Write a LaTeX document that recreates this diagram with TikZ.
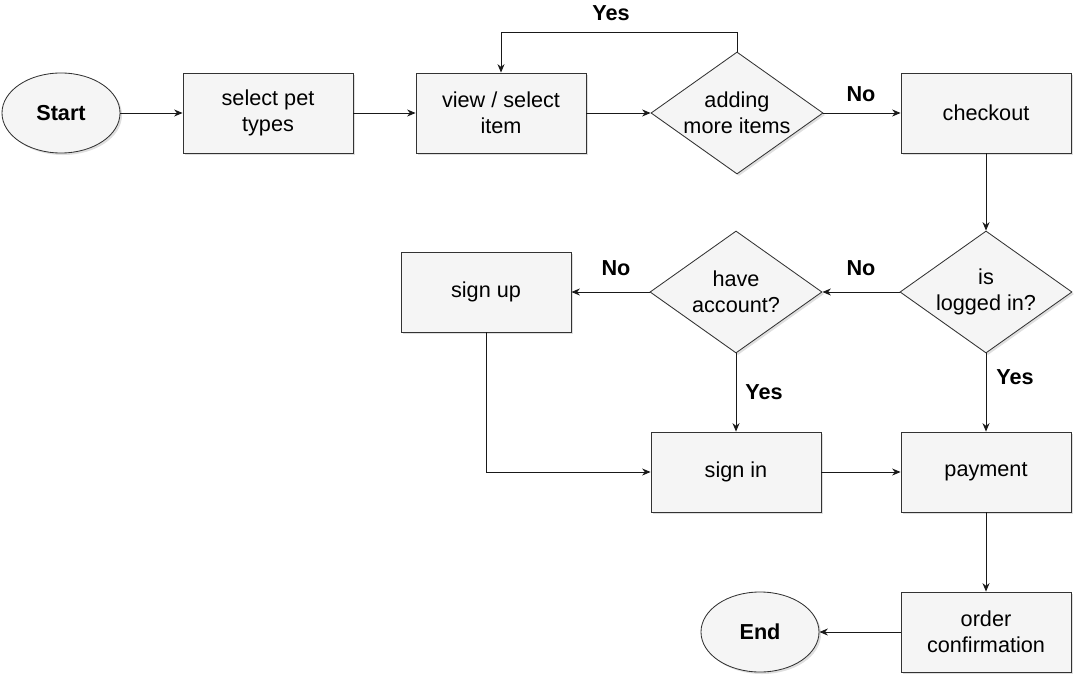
\documentclass[tikz,border=0pt]{standalone}
\usepackage{fontspec}
\setmainfont{Liberation Sans}
\usetikzlibrary{arrows.meta,positioning,shapes.geometric,shadows}

\tikzset{
  base/.style={draw=black!80, fill=black!4, line width=0.6pt, align=center,
    font=\fontsize{15.4}{18.6}\selectfont,
    drop shadow={shadow xshift=0.05cm, shadow yshift=-0.05cm, opacity=0.25}},
  proc/.style={base, rectangle, minimum width=4.25cm, minimum height=2cm, inner sep=0pt},
  decide/.style={base, diamond, aspect=1.45, inner sep=0pt, minimum width=4.3cm, minimum height=3.05cm},
  term/.style={base, ellipse, minimum width=2.95cm, minimum height=2cm, inner sep=0pt,
    font=\fontsize{15.4}{18.6}\selectfont\bfseries},
  lbl/.style={font=\fontsize{15.4}{18.6}\selectfont\bfseries},
  flow/.style={line width=0.6pt, black!90, -{Stealth[length=6pt,width=5pt]}}
}

\begin{document}
\begin{tikzpicture}[x=0.025cm, y=-0.025cm]
    \useasboundingbox (0,0) rectangle (1075,676);

    % top row
    \node[term]   (start)    at (61,113)  {Start};
    \node[proc]   (pettypes) at (268,113) {select pet\\types};
    \node[proc]   (viewitem) at (501,113) {view / select\\item};
    \node[decide] (moreitems) at (737,113) {adding\\more items};
    \node[proc]   (checkout) at (986,113) {checkout};

    % login part
    \node[decide] (loggedin) at (986,292) {is\\logged in?};
    \node[decide] (account)  at (736,292) {have\\account?};
    \node[proc]   (signup)   at (486,292) {sign up};
    \node[proc]   (signin)   at (736,472) {sign in};
    \node[proc]   (payment)  at (986,472) {payment};
    \node[proc]   (confirm)  at (986,632) {order\\confirmation};
    \node[term]   (finish)   at (760,632) {End};

    \draw[flow] (start) -- (pettypes);
    \draw[flow] (pettypes) -- (viewitem);
    \draw[flow] (viewitem) -- (moreitems);
    \draw[flow] (moreitems.north) -- ++(0,-19) -| (viewitem.north);
    \draw[flow] (moreitems) -- (checkout);
    \draw[flow] (checkout) -- (loggedin);
    \draw[flow] (loggedin) -- (account);
    \draw[flow] (account) -- (signup);
    \draw[flow] (account) -- (signin);
    \draw[flow] (signup.south) |- (signin.west);
    \draw[flow] (signin) -- (payment);
    \draw[flow] (loggedin) -- (payment);
    \draw[flow] (payment) -- (confirm);
    \draw[flow] (confirm) -- (finish);

    \node[lbl] (yesmore) at (611,13)   {Yes};
    \node[lbl] (nomore)  at (861,94)   {No};
    \node[lbl] (nolog)   at (861,268)  {No};
    \node[lbl] (noacc)   at (616,268)  {No};
    \node[lbl] (yesacc)  at (764,392)  {Yes};
    \node[lbl] (yeslog)  at (1015,377) {Yes};
  \end{tikzpicture}
\end{document}
